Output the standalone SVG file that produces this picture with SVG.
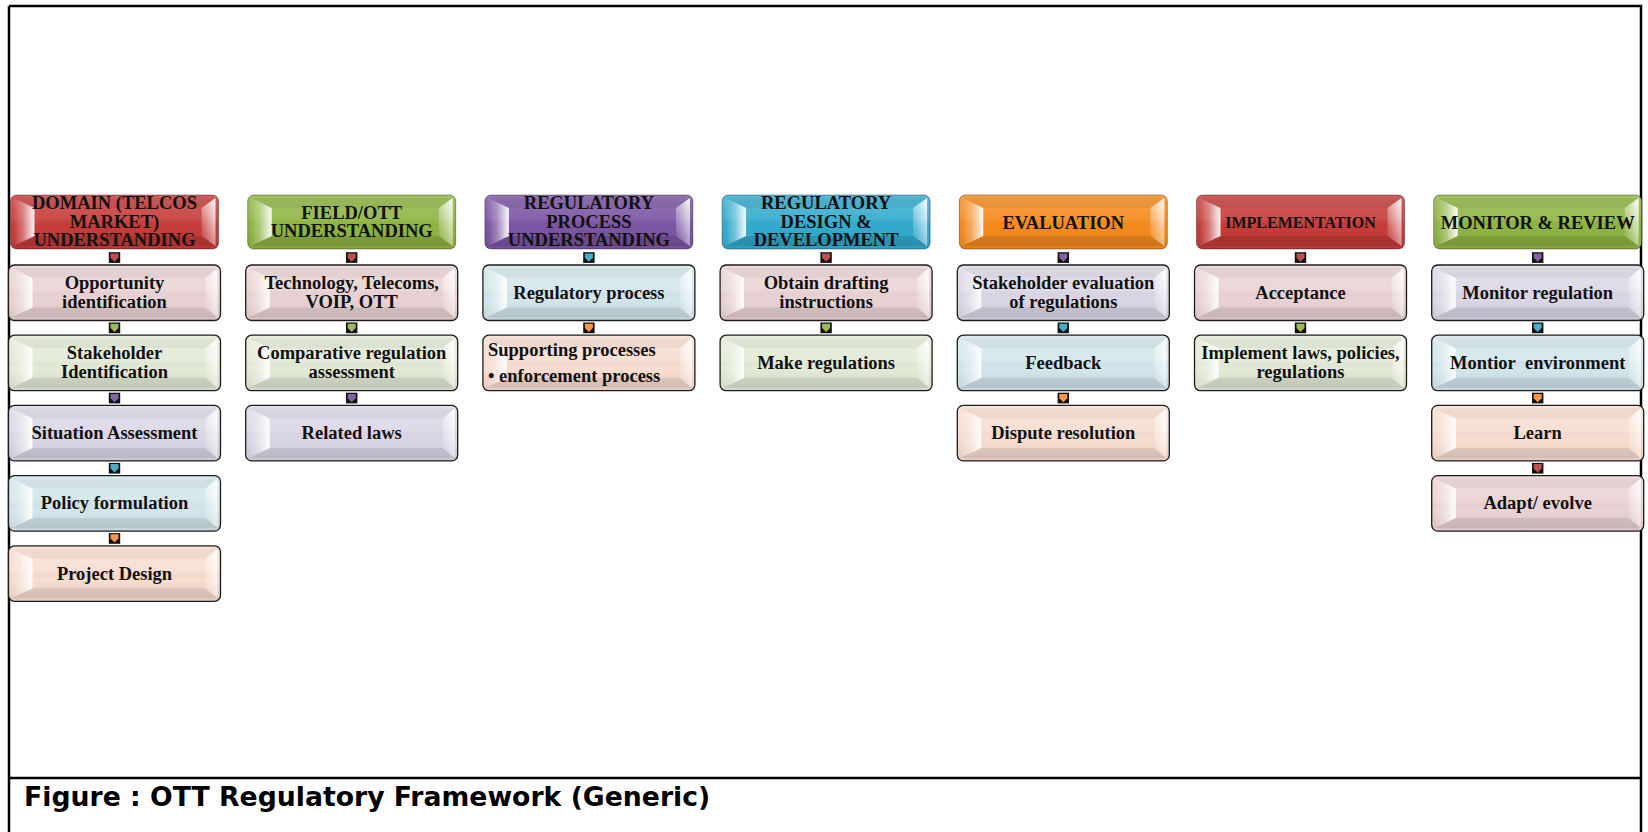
<svg xmlns="http://www.w3.org/2000/svg" width="1648" height="832" viewBox="0 0 1648 832">
<style>
.t{font-family:"Liberation Serif","Times New Roman",serif;font-weight:bold;font-size:18.5px;fill:#111;text-anchor:middle}
.tl{text-anchor:start}
.frame{stroke:#000;stroke-width:2.5;fill:none}
.cap{font-family:"DejaVu Sans",Verdana,sans-serif;font-weight:bold;font-size:26.7px;fill:#000}
.red{fill:#C63C3A}.grn{fill:#8FB543}.pur{fill:#7B55A3}.cya{fill:#33ABCE}.org{fill:#F68A1E}
.pk{fill:#EAD3D4}.lg{fill:#E3EAD6}.lv{fill:#DCD7E6}.lb{fill:#D3E6EC}.pc{fill:#F8DDD0}
</style>
<defs>
<linearGradient id="gB" x1="0" y1="0" x2="0" y2="1">
<stop offset="0" stop-color="#fff" stop-opacity="0.18"/>
<stop offset="0.45" stop-color="#fff" stop-opacity="0.08"/>
<stop offset="0.6" stop-color="#000" stop-opacity="0"/>
<stop offset="1" stop-color="#000" stop-opacity="0.08"/>
</linearGradient>
<linearGradient id="gL" x1="0" y1="0" x2="1" y2="0">
<stop offset="0" stop-color="#fff" stop-opacity="0"/>
<stop offset="0.45" stop-color="#fff" stop-opacity="0.3"/>
<stop offset="1" stop-color="#fff" stop-opacity="0.95"/>
</linearGradient>
<linearGradient id="gR" x1="0" y1="1" x2="1" y2="0">
<stop offset="0" stop-color="#fff" stop-opacity="0"/>
<stop offset="0.6" stop-color="#fff" stop-opacity="0.55"/>
<stop offset="1" stop-color="#fff" stop-opacity="0.95"/>
</linearGradient>
<g id="bvC">
<rect width="212" height="55.5" rx="6" fill="url(#gB)"/>
<polygon points="3,3 209,3 197,13 24,13" fill="#000" fill-opacity="0.04"/>
<polygon points="3,52.5 209,52.5 197,42.5 24,42.5" fill="#000" fill-opacity="0.08"/>
<polygon points="3,3 24,13 24,42.5 3,52.5" fill="url(#gL)"/>
<polygon points="209,3 197,13 197,42.5 209,52.5" fill="url(#gR)"/>
<rect width="212" height="55.5" rx="6" fill="none" stroke="#1c1c1c" stroke-width="1.3"/>
</g>
<g id="bvH">
<rect width="208" height="54" rx="6" fill="url(#gB)"/>
<polygon points="3,3 205,3 191,13 24,13" fill="#000" fill-opacity="0.05"/>
<polygon points="3,51 205,51 191,41 24,41" fill="#000" fill-opacity="0.1"/>
<polygon points="3,3 24,13 24,41 3,51" fill="url(#gL)"/>
<polygon points="205,3 191,13 191,41 205,51" fill="url(#gR)"/>
<rect width="208" height="54" rx="6" fill="none" stroke="#000" stroke-opacity="0.35" stroke-width="1"/>
</g>
<g id="cn">
<rect x="-5.7" y="0" width="11.4" height="10.7" fill="#111"/>
<polygon points="-4,1.2 4,1.2 4,5.5 0,9.5 -4,5.5"/>
</g>
</defs>

<path class="frame" d="M9,6 H1641 V832 M9,6 V832 M9,778 H1641"/>

<g id="connectors">
<use href="#cn" x="114.5" y="252.2" fill="#C0504D"/>
<use href="#cn" x="114.5" y="322.5" fill="#9BBB59"/>
<use href="#cn" x="114.5" y="392.7" fill="#8064A2"/>
<use href="#cn" x="114.5" y="462.9" fill="#4BACC6"/>
<use href="#cn" x="114.5" y="533.1" fill="#F79646"/>
<use href="#cn" x="351.7" y="252.2" fill="#C0504D"/>
<use href="#cn" x="351.7" y="322.5" fill="#9BBB59"/>
<use href="#cn" x="351.7" y="392.7" fill="#8064A2"/>
<use href="#cn" x="588.9" y="252.2" fill="#4BACC6"/>
<use href="#cn" x="588.9" y="322.5" fill="#F79646"/>
<use href="#cn" x="826.1" y="252.2" fill="#C0504D"/>
<use href="#cn" x="826.1" y="322.5" fill="#9BBB59"/>
<use href="#cn" x="1063.3" y="252.2" fill="#8064A2"/>
<use href="#cn" x="1063.3" y="322.5" fill="#4BACC6"/>
<use href="#cn" x="1063.3" y="392.7" fill="#F79646"/>
<use href="#cn" x="1300.5" y="252.2" fill="#C0504D"/>
<use href="#cn" x="1300.5" y="322.5" fill="#9BBB59"/>
<use href="#cn" x="1537.7" y="252.2" fill="#8064A2"/>
<use href="#cn" x="1537.7" y="322.5" fill="#4BACC6"/>
<use href="#cn" x="1537.7" y="392.7" fill="#F79646"/>
<use href="#cn" x="1537.7" y="462.9" fill="#C0504D"/>
</g>

<!-- Column 1 -->
<g id="h1"><rect class="red" x="10.5" y="195" width="208" height="54" rx="6"/><use href="#bvH" x="10.5" y="195"/>
<text class="t" x="114.5" y="209">DOMAIN (TELCOS</text><text class="t" x="114.5" y="227.5">MARKET)</text><text class="t" x="114.5" y="246">UNDERSTANDING</text></g>
<g id="c1r0"><rect class="pk" x="8.5" y="265" width="212" height="55.5" rx="6"/><use href="#bvC" x="8.5" y="265"/>
<text class="t" x="114.5" y="289">Opportunity</text><text class="t" x="114.5" y="307.5">identification</text></g>
<g id="c1r1"><rect class="lg" x="8.5" y="335.2" width="212" height="55.5" rx="6"/><use href="#bvC" x="8.5" y="335.2"/>
<text class="t" x="114.5" y="359.2">Stakeholder</text><text class="t" x="114.5" y="377.7">Identification</text></g>
<g id="c1r2"><rect class="lv" x="8.5" y="405.4" width="212" height="55.5" rx="6"/><use href="#bvC" x="8.5" y="405.4"/>
<text class="t" x="114.5" y="439.2">Situation Assessment</text></g>
<g id="c1r3"><rect class="lb" x="8.5" y="475.6" width="212" height="55.5" rx="6"/><use href="#bvC" x="8.5" y="475.6"/>
<text class="t" x="114.5" y="509.4">Policy formulation</text></g>
<g id="c1r4"><rect class="pc" x="8.5" y="545.8" width="212" height="55.5" rx="6"/><use href="#bvC" x="8.5" y="545.8"/>
<text class="t" x="114.5" y="579.6">Project Design</text></g>

<!-- Column 2 -->
<g id="h2"><rect class="grn" x="247.7" y="195" width="208" height="54" rx="6"/><use href="#bvH" x="247.7" y="195"/>
<text class="t" x="351.7" y="219">FIELD/OTT</text><text class="t" x="351.7" y="237.3">UNDERSTANDING</text></g>
<g id="c2r0"><rect class="pk" x="245.7" y="265" width="212" height="55.5" rx="6"/><use href="#bvC" x="245.7" y="265"/>
<text class="t" x="351.7" y="289">Technology, Telecoms,</text><text class="t" x="351.7" y="307.5">VOIP, OTT</text></g>
<g id="c2r1"><rect class="lg" x="245.7" y="335.2" width="212" height="55.5" rx="6"/><use href="#bvC" x="245.7" y="335.2"/>
<text class="t" x="351.7" y="359.2">Comparative regulation</text><text class="t" x="351.7" y="377.7">assessment</text></g>
<g id="c2r2"><rect class="lv" x="245.7" y="405.4" width="212" height="55.5" rx="6"/><use href="#bvC" x="245.7" y="405.4"/>
<text class="t" x="351.7" y="439.2">Related laws</text></g>

<!-- Column 3 -->
<g id="h3"><rect class="pur" x="484.9" y="195" width="208" height="54" rx="6"/><use href="#bvH" x="484.9" y="195"/>
<text class="t" x="588.9" y="209">REGULATORY</text><text class="t" x="588.9" y="227.5">PROCESS</text><text class="t" x="588.9" y="246">UNDERSTANDING</text></g>
<g id="c3r0"><rect class="lb" x="482.9" y="265" width="212" height="55.5" rx="6"/><use href="#bvC" x="482.9" y="265"/>
<text class="t" x="588.9" y="298.8">Regulatory process</text></g>
<g id="c3r1"><rect class="pc" x="482.9" y="335.2" width="212" height="55.5" rx="6"/><use href="#bvC" x="482.9" y="335.2"/>
<text class="t tl" x="488" y="355.7">Supporting processes</text><text class="t tl" x="488" y="382.3">• enforcement process</text></g>

<!-- Column 4 -->
<g id="h4"><rect class="cya" x="722.1" y="195" width="208" height="54" rx="6"/><use href="#bvH" x="722.1" y="195"/>
<text class="t" x="826.1" y="209">REGULATORY</text><text class="t" x="826.1" y="227.5">DESIGN &amp;</text><text class="t" x="826.1" y="246">DEVELOPMENT</text></g>
<g id="c4r0"><rect class="pk" x="720.1" y="265" width="212" height="55.5" rx="6"/><use href="#bvC" x="720.1" y="265"/>
<text class="t" x="826.1" y="289">Obtain drafting</text><text class="t" x="826.1" y="307.5">instructions</text></g>
<g id="c4r1"><rect class="lg" x="720.1" y="335.2" width="212" height="55.5" rx="6"/><use href="#bvC" x="720.1" y="335.2"/>
<text class="t" x="826.1" y="369">Make regulations</text></g>

<!-- Column 5 -->
<g id="h5"><rect class="org" x="959.3" y="195" width="208" height="54" rx="6"/><use href="#bvH" x="959.3" y="195"/>
<text class="t" x="1063.3" y="229">EVALUATION</text></g>
<g id="c5r0"><rect class="lv" x="957.3" y="265" width="212" height="55.5" rx="6"/><use href="#bvC" x="957.3" y="265"/>
<text class="t" x="1063.3" y="289">Stakeholder evaluation</text><text class="t" x="1063.3" y="307.5">of regulations</text></g>
<g id="c5r1"><rect class="lb" x="957.3" y="335.2" width="212" height="55.5" rx="6"/><use href="#bvC" x="957.3" y="335.2"/>
<text class="t" x="1063.3" y="369">Feedback</text></g>
<g id="c5r2"><rect class="pc" x="957.3" y="405.4" width="212" height="55.5" rx="6"/><use href="#bvC" x="957.3" y="405.4"/>
<text class="t" x="1063.3" y="439.2">Dispute resolution</text></g>

<!-- Column 6 -->
<g id="h6"><rect class="red" x="1196.5" y="195" width="208" height="54" rx="6"/><use href="#bvH" x="1196.5" y="195"/>
<text class="t" x="1300.5" y="228.3" style="font-size:16px">IMPLEMENTATION</text></g>
<g id="c6r0"><rect class="pk" x="1194.5" y="265" width="212" height="55.5" rx="6"/><use href="#bvC" x="1194.5" y="265"/>
<text class="t" x="1300.5" y="298.8">Acceptance</text></g>
<g id="c6r1"><rect class="lg" x="1194.5" y="335.2" width="212" height="55.5" rx="6"/><use href="#bvC" x="1194.5" y="335.2"/>
<text class="t" x="1300.5" y="359.2">Implement laws, policies,</text><text class="t" x="1300.5" y="377.7">regulations</text></g>

<!-- Column 7 -->
<g id="h7"><rect class="grn" x="1433.7" y="195" width="208" height="54" rx="6"/><use href="#bvH" x="1433.7" y="195"/>
<text class="t" x="1537.7" y="229.3">MONITOR &amp; REVIEW</text></g>
<g id="c7r0"><rect class="lv" x="1431.7" y="265" width="212" height="55.5" rx="6"/><use href="#bvC" x="1431.7" y="265"/>
<text class="t" x="1537.7" y="298.8">Monitor regulation</text></g>
<g id="c7r1"><rect class="lb" x="1431.7" y="335.2" width="212" height="55.5" rx="6"/><use href="#bvC" x="1431.7" y="335.2"/>
<text class="t" x="1537.7" y="369">Montior&#160; environment</text></g>
<g id="c7r2"><rect class="pc" x="1431.7" y="405.4" width="212" height="55.5" rx="6"/><use href="#bvC" x="1431.7" y="405.4"/>
<text class="t" x="1537.7" y="439.2">Learn</text></g>
<g id="c7r3"><rect class="pk" x="1431.7" y="475.6" width="212" height="55.5" rx="6"/><use href="#bvC" x="1431.7" y="475.6"/>
<text class="t" x="1537.7" y="509.4">Adapt/ evolve</text></g>

<text class="cap" x="24" y="806">Figure : OTT Regulatory Framework (Generic)</text>
</svg>
